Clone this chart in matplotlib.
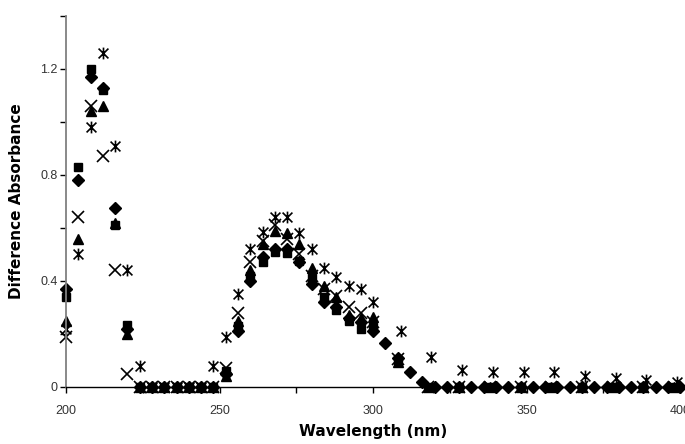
import numpy as np
import matplotlib
matplotlib.use('Agg')
import matplotlib.pyplot as plt
from matplotlib.path import Path
from matplotlib.ticker import MultipleLocator, FuncFormatter

plt.rcParams['font.family'] = ['Liberation Sans', 'DejaVu Sans']

# 4 nm grid 200..300 used by the first part of every series
wl_main = list(range(200, 304, 4))

# diamonds continue on the 4 nm grid up to 400
wl_diamond = list(range(200, 404, 4))
diamond = [0.37, 0.78, 1.17, 1.13, 0.675, 0.22, 0, 0, 0, 0, 0, 0, 0,
           0.05, 0.21, 0.40, 0.49, 0.52, 0.52, 0.47, 0.39, 0.32, 0.30, 0.26, 0.245, 0.21,
           0.165, 0.11, 0.058, 0.02] + [0] * 21

# squares, triangles and X: 4 nm grid, then every 10 nm
wl_tail = list(range(308, 400, 10))
square = [0.34, 0.83, 1.20, 1.12, 0.61, 0.235, 0, 0, 0, 0, 0, 0, 0,
          0.06, 0.23, 0.42, 0.47, 0.51, 0.505, 0.475, 0.41, 0.34, 0.29, 0.25, 0.22, 0.225]
square_tail = [0.10, 0, 0, 0, 0, 0, 0, 0, 0, 0]

triangle = [0.25, 0.56, 1.04, 1.06, 0.62, 0.20, 0, 0, 0, 0, 0, 0, 0,
            0.04, 0.25, 0.44, 0.54, 0.59, 0.58, 0.54, 0.45, 0.38, 0.34, 0.27, 0.26, 0.265]
triangle_tail = [0.095, 0, 0, 0, 0, 0, 0, 0, 0, 0]

xmark = [0.19, 0.64, 1.06, 0.87, 0.44, 0.05, 0, 0, 0, 0, 0, 0, 0,
         0.07, 0.28, 0.47, 0.55, 0.61, 0.56, 0.50, 0.42, 0.37, 0.345, 0.30, 0.28, 0.245]
xmark_tail = [0.105, 0, 0, 0, 0, 0, 0, 0, 0, 0]

# asterisks: 4 nm grid, then every 10 nm
wl_star_tail = list(range(309, 401, 10))
star = [0.22, 0.50, 0.98, 1.26, 0.91, 0.44, 0.08, 0, 0, 0, 0, 0, 0.08,
        0.19, 0.35, 0.52, 0.586, 0.64, 0.64, 0.58, 0.52, 0.45, 0.415, 0.38, 0.37, 0.32]
star_tail = [0.21, 0.114, 0.065, 0.057, 0.055, 0.055, 0.04, 0.035, 0.025, 0.02]

# excel style star: an x with a vertical bar
star_marker = Path([(-1, -1), (1, 1), (-1, 1), (1, -1), (0, -1.2), (0, 1.2)],
                   [Path.MOVETO, Path.LINETO, Path.MOVETO, Path.LINETO, Path.MOVETO, Path.LINETO])

fig = plt.figure(figsize=(6.85, 4.44), dpi=100)
ax = fig.add_axes([0.0964, 0.1284, 0.8966, 0.8356])

ax.plot(wl_diamond, diamond, ls='none', marker='D', ms=6, color='black', mec='black')
ax.plot(wl_main + wl_tail, square + square_tail, ls='none', marker='s', ms=6, color='black')
ax.plot(wl_main + wl_tail, triangle + triangle_tail, ls='none', marker='^', ms=6.5, color='black')
ax.plot(wl_main + wl_tail, xmark + xmark_tail, ls='none', marker='x', ms=8.5, mew=1.2, color='black')
ax.plot(wl_main + wl_star_tail, star + star_tail, ls='none', marker=star_marker, ms=8.5,
        mew=1.2, mfc='none', mec='black')

ax.set_xlim(200, 400)
ax.set_ylim(0, 1.4)
ax.xaxis.set_major_locator(MultipleLocator(25))
ax.yaxis.set_major_locator(MultipleLocator(0.2))


def xfmt(v, pos):
    return '%d' % v if v % 50 == 0 else ''


def yfmt(v, pos):
    if abs(v) < 1e-9:
        return '0'
    k = round(v / 0.2)
    return ('%.1f' % v) if k % 2 == 0 and k < 7 else ''


ax.xaxis.set_major_formatter(FuncFormatter(xfmt))
ax.yaxis.set_major_formatter(FuncFormatter(yfmt))

for s in ['top', 'right']:
    ax.spines[s].set_visible(False)
ax.spines['left'].set_color('#808080')
ax.spines['left'].set_linewidth(1.3)
ax.spines['bottom'].set_color('black')
ax.spines['bottom'].set_linewidth(1.0)

ax.tick_params(axis='x', direction='out', length=4, width=1, pad=9, labelsize=9, colors='black')
ax.tick_params(axis='y', direction='out', length=4, width=1, pad=2, labelsize=9, colors='black')

ax.set_xlabel('Wavelength (nm)', fontsize=11, fontweight='bold', family='DejaVu Sans',
              labelpad=5)
ax.set_ylabel('Difference Absorbance', fontsize=11, fontweight='bold', family='DejaVu Sans',
              labelpad=12)
for lab in ax.get_xticklabels() + ax.get_yticklabels():
    lab.set_color('#333333')
for ln in ax.lines:
    ln.set_clip_on(False)

fig.savefig('out.png', dpi=100)
